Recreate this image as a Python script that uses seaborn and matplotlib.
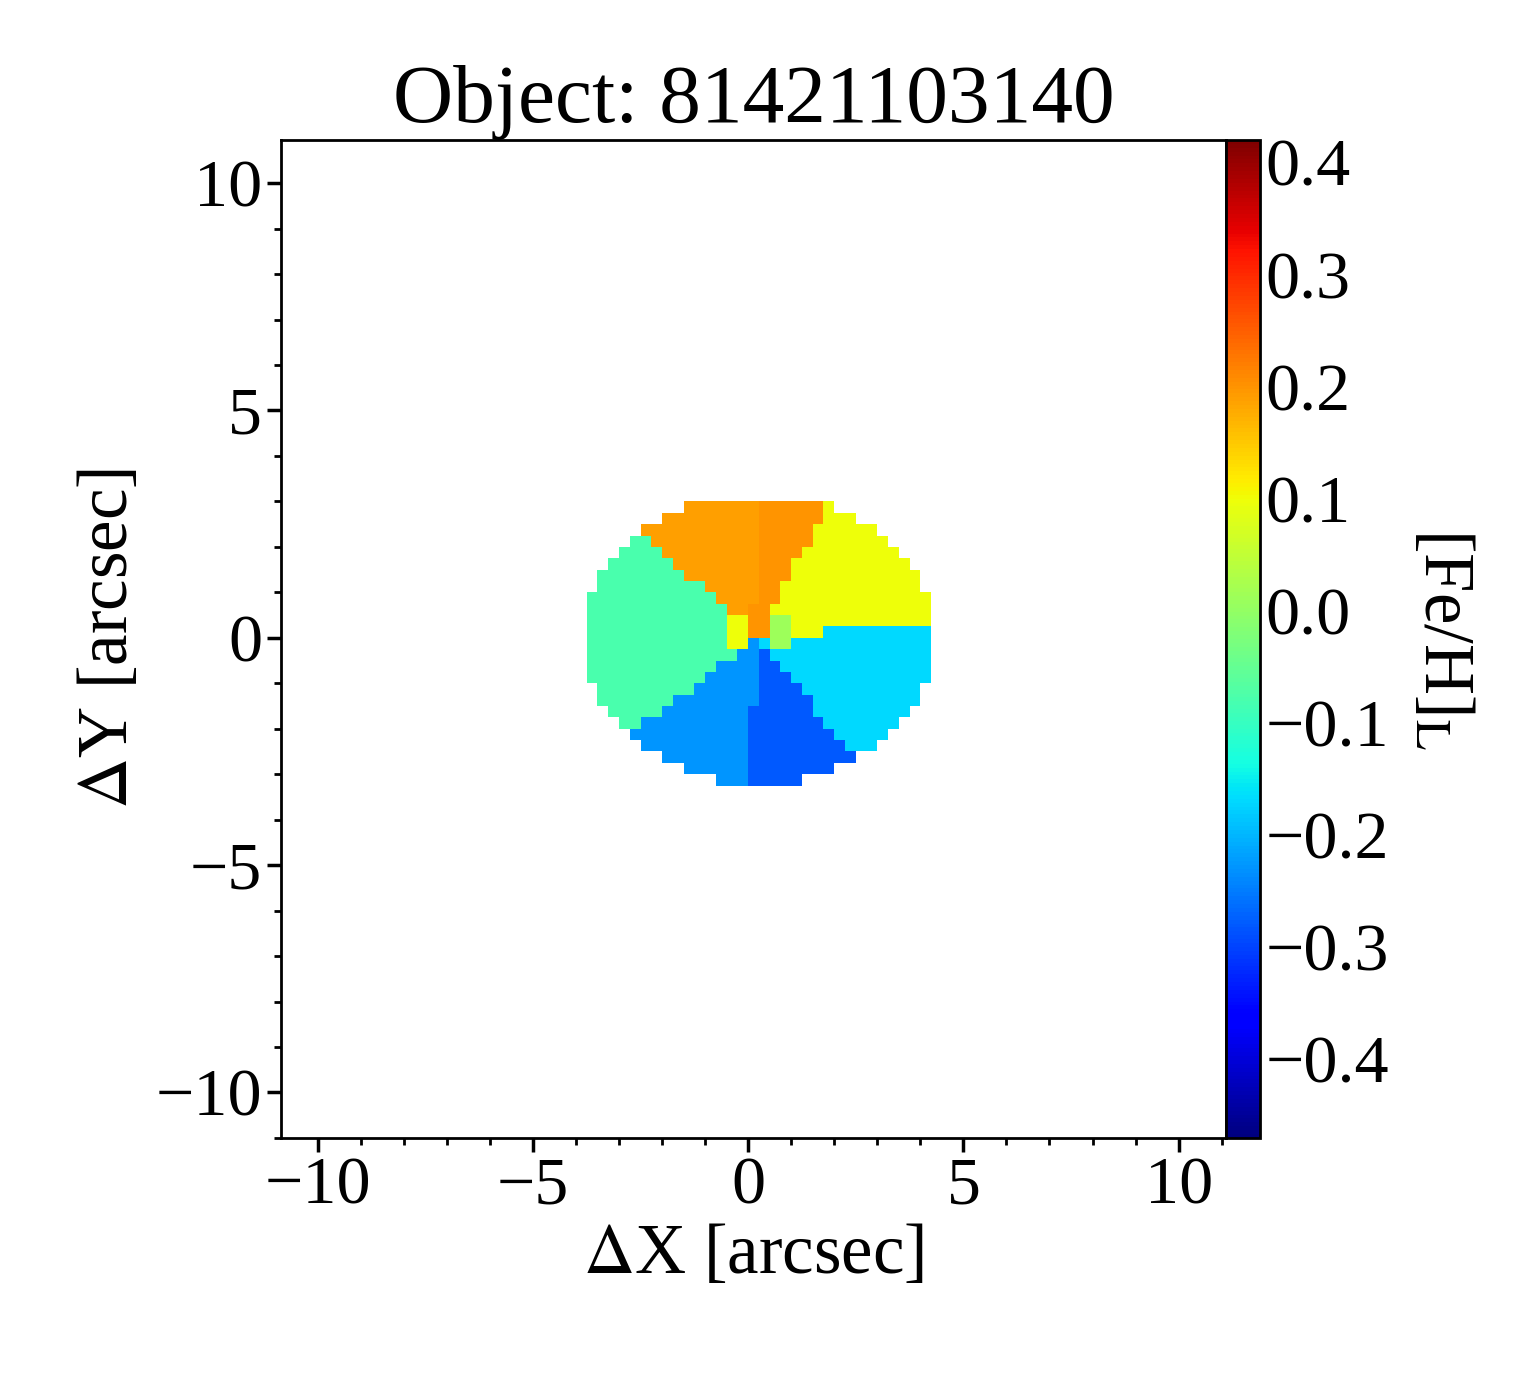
import numpy as np
import matplotlib
matplotlib.use("Agg")
import matplotlib.pyplot as plt
import seaborn as sns

sns.set_theme(style="ticks")
plt.rcParams['font.family'] = ['Liberation Serif', 'DejaVu Serif']
plt.rcParams['mathtext.fontset'] = 'stix'
for k in ['text.color', 'axes.labelcolor', 'xtick.color', 'ytick.color', 'axes.edgecolor']:
    plt.rcParams[k] = 'black'

# Bin layout: angular sectors (degrees, from centre) and their [Fe/H]_L values
sector_start_deg = [-145, -95, -50, 5, 62, 90, 140]
sector_end_deg   = [-95, -50, 5, 62, 90, 140, 215]
sector_values    = [-0.23, -0.28, -0.17, 0.10, 0.20, 0.19, -0.08]
# central bins: x, y, value
core_x = [-0.25, 0.25, 0.75]
core_y = [0.125, 0.375, 0.125]
core_values = [0.10, 0.20, 0.01]
centre = (0.25, 0.0)
radii = (4.1, 3.2)
y_top = 3.1
pixel = 0.25
vmin, vmax = -0.47, 0.42

edges = np.arange(-11, 11 + pixel, pixel)
cx = (edges[:-1] + edges[1:]) / 2
X, Y = np.meshgrid(cx, cx)
dx, dy = X - centre[0], Y - centre[1]
inside = ((dx / radii[0])**2 + (dy / radii[1])**2 <= 1) & (Y < y_top)
ang = np.degrees(np.arctan2(dy, dx))
ang = np.where(ang < -145, ang + 360, ang)
Z = np.full(X.shape, np.nan)
for s, e, v in zip(sector_start_deg, sector_end_deg, sector_values):
    Z[(ang >= s) & (ang < e) & inside] = v
for x, y, v in zip(core_x, core_y, core_values):
    sel = (np.abs(X - x) < 0.26) & (np.abs(Y - y) < 0.26)
    Z[sel] = v

fig = plt.figure(figsize=(15.4, 13.75), dpi=100)
ax = fig.add_axes([0.1825, 0.1724, 0.6136, 0.7258])
cax = fig.add_axes([0.796, 0.1724, 0.022, 0.7258])
m = ax.pcolormesh(edges, edges, np.ma.masked_invalid(Z), cmap='jet', vmin=vmin, vmax=vmax)
ax.set_xlim(-10.85, 11.1)
ax.set_ylim(-11.0, 10.95)
ax.set_xticks([-10, -5, 0, 5, 10])
ax.set_yticks([-10, -5, 0, 5, 10])
ax.minorticks_on()
fs = 49
ax.tick_params(which='major', labelsize=fs, length=10, width=2.5, direction='out')
ax.tick_params(which='minor', length=5, width=2, direction='out')
ax.set_xticklabels(['\u221210', '\u22125', '0', '5', '10'])
ax.set_yticklabels(['\u221210', '\u22125', '0', '5', '10'])
for sp in ax.spines.values():
    sp.set_linewidth(2)
ax.set_xlabel(r'$\Delta$X [arcsec]', fontsize=51, labelpad=4)
ax.set_ylabel(r'$\Delta$Y [arcsec]', fontsize=51, labelpad=10)
ax.set_title('Object: 81421103140', fontsize=60, pad=4)

cb = fig.colorbar(m, cax=cax)
cb.set_ticks([-0.4, -0.3, -0.2, -0.1, 0.0, 0.1, 0.2, 0.3, 0.4])
cb.set_ticklabels(['\u22120.4', '\u22120.3', '\u22120.2', '\u22120.1', '0.0', '0.1', '0.2', '0.3', '0.4'])
cax.tick_params(labelsize=fs, length=10, width=2.5, direction='in', pad=4)
cb.outline.set_linewidth(2)
cb.set_label(r'[Fe/H]$_{\rm L}$', fontsize=51, rotation=270, labelpad=62)
fig.savefig('out.png', dpi=100)
